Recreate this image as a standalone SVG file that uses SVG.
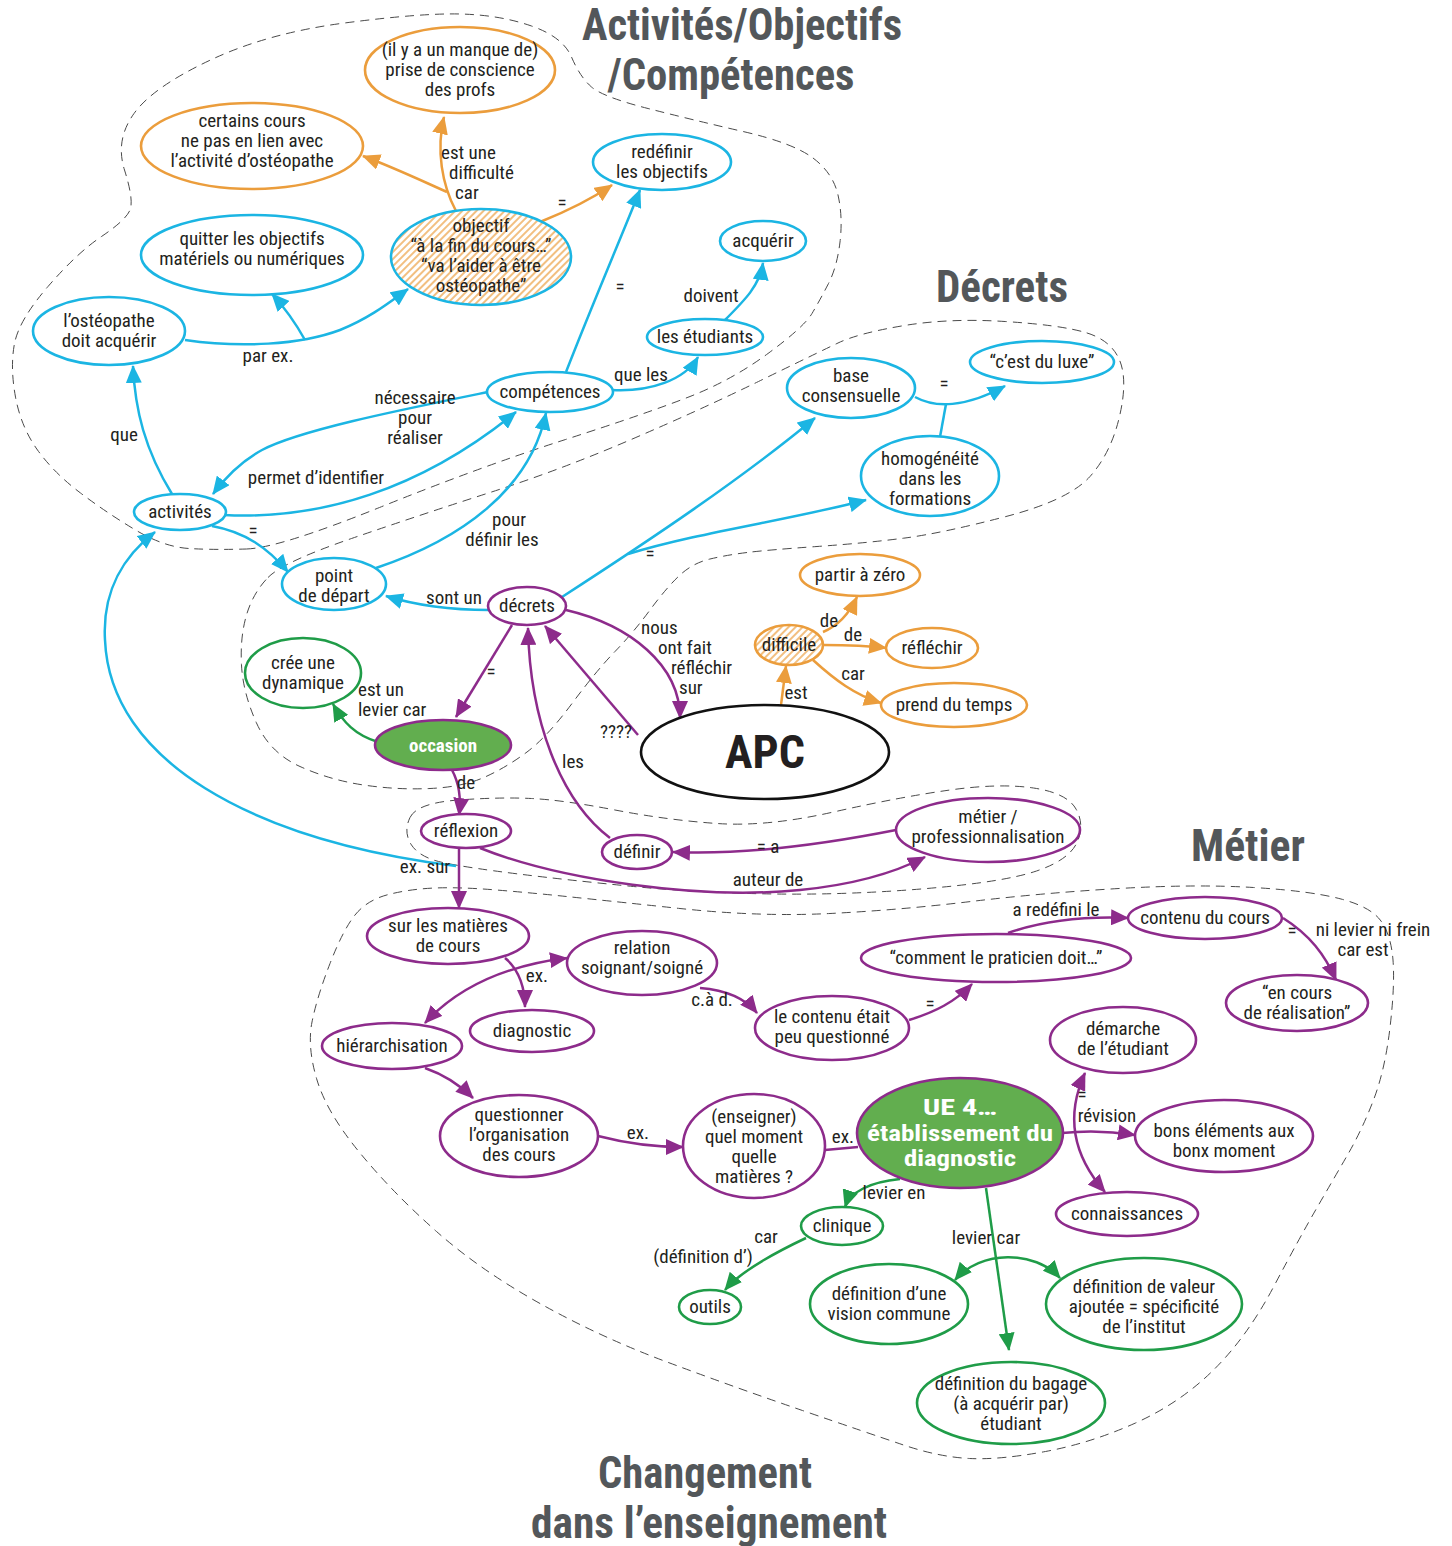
<svg xmlns="http://www.w3.org/2000/svg" width="1452" height="1546" viewBox="0 0 1452 1546">
<defs>
<style>
text{font-family:"Liberation Sans Narrow","Arial Narrow","Roboto Condensed","DejaVu Sans Condensed",sans-serif;font-stretch:condensed;font-size:19px;fill:#231f20;text-anchor:middle}
.t{font-weight:bold;font-size:44px;fill:#53575a}
.st{text-anchor:start}
.wb{fill:#fff;font-weight:bold}
.ue{font-size:22px}
ellipse{stroke-width:2.6}
.c{fill:#fff;stroke:#1bb5e3}
.o{fill:#fff;stroke:#eb9d3c}
.p{fill:#fff;stroke:#8d2b8b}
.g{fill:#fff;stroke:#1f9c48}
.gp{fill:#62ae4f;stroke:#8d2b8b}
.hc{fill:url(#hatch);stroke:#1bb5e3}
.ho{fill:url(#hatch);stroke:#eb9d3c}
.k{fill:#fff;stroke:#111}
.r{fill:none;stroke:#4a4a4a;stroke-width:1;stroke-dasharray:9 6}
.e{fill:none;stroke-width:2.5}
.ec{stroke:#1bb5e3;marker-end:url(#ac)}
.eo{stroke:#eb9d3c;marker-end:url(#ao)}
.ep{stroke:#8d2b8b;marker-end:url(#ap)}
.eg{stroke:#1f9c48;marker-end:url(#ag)}
.cn{stroke:#1bb5e3}
.pn{stroke:#8d2b8b}
.ds{marker-start:url(#ap)}
.dg{marker-start:url(#ag)}
</style>
<pattern id="hatch" patternUnits="userSpaceOnUse" width="5" height="5" patternTransform="rotate(45)">
<rect width="5" height="5" fill="#fff"/>
<line x1="1" y1="0" x2="1" y2="5" stroke="#eb9d3c" stroke-width="1.3"/>
</pattern>
<marker id="ac" viewBox="0 0 18 16" refX="17" refY="8" markerWidth="18" markerHeight="16" orient="auto-start-reverse" markerUnits="userSpaceOnUse"><path d="M0,0 L18,8 L0,16 z" fill="#1bb5e3"/></marker>
<marker id="ao" viewBox="0 0 18 16" refX="17" refY="8" markerWidth="18" markerHeight="16" orient="auto-start-reverse" markerUnits="userSpaceOnUse"><path d="M0,0 L18,8 L0,16 z" fill="#eb9d3c"/></marker>
<marker id="ap" viewBox="0 0 18 16" refX="17" refY="8" markerWidth="18" markerHeight="16" orient="auto-start-reverse" markerUnits="userSpaceOnUse"><path d="M0,0 L18,8 L0,16 z" fill="#8d2b8b"/></marker>
<marker id="ag" viewBox="0 0 18 16" refX="17" refY="8" markerWidth="18" markerHeight="16" orient="auto-start-reverse" markerUnits="userSpaceOnUse"><path d="M0,0 L18,8 L0,16 z" fill="#1f9c48"/></marker>
</defs>
<rect width="1452" height="1546" fill="#fff"/>

<g id="regions">
<path class="r" d="M 246.5,549 Q 279,548 379.5,507.5 Q 480,467 564,440 Q 648,413 690,396.5 Q 732,380 768,353.5 Q 804,327 812,313.5 Q 820,300 828.5,283.5 Q 837,267 840,242 Q 843,217 838,195 Q 833,173 813,158 Q 793,143 743,131.5 Q 693,120 648,108.5 Q 603,97 591.5,87 Q 580,77 571.5,57 Q 563,37 531.5,26 Q 500,15 460.5,14 Q 421,13 344.5,23 Q 268,33 210.5,60 Q 153,87 134,113.5 Q 115,140 124.5,170 Q 134,200 130,210 Q 126,220 101.5,236.5 Q 77,253 48,286.5 Q 19,320 14.5,343.5 Q 10,367 15.5,397 Q 21,427 37.5,450 Q 54,473 80.5,493 Q 107,513 135.5,530 Q 164,547 189,548.5 Q 214,550 246.5,549 Z"/>
<path class="r" d="M 268,577.5 Q 283,562 351.5,538.5 Q 420,515 490,492.5 Q 560,470 630,440 Q 700,410 758.5,381.5 Q 817,353 838,343 Q 859,333 904.5,325.5 Q 950,318 1005,321.5 Q 1060,325 1085.5,332.5 Q 1111,340 1119.5,360 Q 1128,380 1119.5,416.5 Q 1111,453 1090,476.5 Q 1069,500 1006,516.5 Q 943,533 905,538 Q 867,543 817,546.5 Q 767,550 747,552.5 Q 727,555 710,559 Q 693,563 680,575 Q 667,587 650,610 Q 633,633 615,651.5 Q 597,670 572,703.5 Q 547,737 527,752 Q 507,767 485,777 Q 463,787 430,788.5 Q 397,790 363.5,785 Q 330,780 300,766.5 Q 270,753 256.5,723 Q 243,693 241.5,665 Q 240,637 246.5,615 Q 253,593 268,577.5 Z"/>
<path class="r" d="M 410,817.5 Q 417,803 458.5,800 Q 500,797 531.5,798.5 Q 563,800 615,810 Q 667,820 717,823.5 Q 767,827 833.5,812 Q 900,797 950,790 Q 1000,783 1033.5,788 Q 1067,793 1076,809 Q 1085,825 1077,842.5 Q 1069,860 1036.5,871 Q 1004,882 927,888.5 Q 850,895 775,894 Q 700,893 633.5,886.5 Q 567,880 518.5,874 Q 470,868 445,863 Q 420,858 411.5,845 Q 403,832 410,817.5 Z"/>
<path class="r" d="M 355,915 Q 367,900 388.5,894.5 Q 410,889 435,888 Q 460,887 496.5,890 Q 533,893 566.5,896.5 Q 600,900 680,908.5 Q 760,917 830,913.5 Q 900,910 971,901.5 Q 1042,893 1119,888.5 Q 1196,884 1253.5,887.5 Q 1311,891 1341,899 Q 1371,907 1381,921 Q 1391,935 1393,960 Q 1395,985 1390,1027.5 Q 1385,1070 1373.5,1100 Q 1362,1130 1347.5,1155 Q 1333,1180 1316.5,1208.5 Q 1300,1237 1273.5,1287 Q 1247,1337 1213.5,1370 Q 1180,1403 1135.5,1423 Q 1091,1443 1045.5,1451.5 Q 1000,1460 969.5,1458.5 Q 939,1457 903.5,1445 Q 868,1433 801,1410 Q 734,1387 667,1362 Q 600,1337 540,1303.5 Q 480,1270 436.5,1231.5 Q 393,1193 360,1153 Q 327,1113 317,1080 Q 307,1047 312,1022 Q 317,997 330,963.5 Q 343,930 355,915 Z"/>
</g>

<g id="titles">
<text class="t" x="742" y="40" textLength="320" lengthAdjust="spacingAndGlyphs">Activités/Objectifs</text>
<text class="t" x="731" y="90" textLength="247" lengthAdjust="spacingAndGlyphs">/Compétences</text>
<text class="t" x="1002" y="302" textLength="132" lengthAdjust="spacingAndGlyphs">Décrets</text>
<text class="t" x="1248" y="861" textLength="114" lengthAdjust="spacingAndGlyphs">Métier</text>
<text class="t" x="705" y="1488" textLength="214" lengthAdjust="spacingAndGlyphs">Changement</text>
<text class="t" x="709" y="1538" textLength="356" lengthAdjust="spacingAndGlyphs">dans l’enseignement</text>
</g>

<g id="connectors">
<path class="e eo" d="M 456,211 C 442,185 436,150 444,117"/>
<path class="e eo" d="M 447,192 C 420,180 395,168 363,156"/>
<path class="e eo" d="M 540,222 C 565,212 590,200 612,185"/>
<path class="e ec" d="M 185,340 C 240,348 300,345 340,330 C 370,318 390,302 408,289"/>
<path class="e ec" d="M 305,340 C 295,322 285,308 272,294"/>
<path class="e ec" d="M 172,494 C 145,450 135,410 133,366"/>
<path class="e ec" d="M 488,392 C 400,410 300,430 262,450 C 240,462 225,478 213,494"/>
<path class="e ec" d="M 224,515 C 320,520 420,490 516,412"/>
<path class="e ec" d="M 212,526 C 245,532 268,548 288,572"/>
<path class="e ec" d="M 376,568 C 460,540 530,490 546,413"/>
<path class="e ec" d="M 489,610 C 450,610 415,605 386,596"/>
<path class="e ec" d="M 566,372 C 590,310 620,240 640,190"/>
<path class="e ec" d="M 612,390 C 650,392 685,380 698,357"/>
<path class="e ec" d="M 724,321 C 745,300 760,285 763,263"/>
<path class="e ec" d="M 562,597 C 650,540 740,480 815,418"/>
<path class="e ec" d="M 628,554 C 700,532 790,520 866,500"/>
<path class="e ec" d="M 915,397 C 935,408 965,408 1005,386"/>
<path class="e cn" d="M 940,437 L 946,404"/>
<path class="e ec" d="M 456,866 C 250,840 110,760 105,640 C 102,590 125,555 155,532"/>
<path class="e ep" d="M 512,625 L 456,717"/>
<path class="e ep" d="M 452,770 C 460,785 461,800 459,815"/>
<path class="e ep" d="M 566,610 C 630,625 680,665 680,718"/>
<path class="e ep" d="M 638,735 L 545,626"/>
<path class="e ep" d="M 610,838 C 560,800 530,720 528,628"/>
<path class="e ep" d="M 896,830 C 820,845 740,855 673,852"/>
<path class="e ep" d="M 480,848 C 560,880 700,900 800,890 C 860,884 900,870 925,857"/>
<path class="e ep" d="M 459,848 L 459,908"/>
<path class="e ep" d="M 505,958 C 520,970 525,990 525,1007"/>
<path class="e ep ds" d="M 425,1023 C 460,985 510,965 567,958"/>
<path class="e ep" d="M 425,1068 C 445,1075 460,1085 473,1098"/>
<path class="e ep" d="M 700,988 C 725,990 745,998 757,1013"/>
<path class="e ep" d="M 909,1020 C 935,1012 955,1002 972,984"/>
<path class="e ep" d="M 1008,933 C 1040,922 1080,916 1128,918"/>
<path class="e ep" d="M 1283,918 C 1310,935 1325,955 1336,980"/>
<path class="e ep" d="M 598,1136 C 625,1143 655,1147 683,1147"/>
<path class="e pn" d="M 825,1150 L 858,1147"/>
<path class="e ep ds" d="M 1085,1073 C 1068,1110 1068,1150 1105,1192"/>
<path class="e ep" d="M 1062,1133 C 1090,1130 1110,1131 1135,1135"/>
<path class="e eg" d="M 378,742 C 355,735 343,722 333,704"/>
<path class="e eg" d="M 900,1179 C 870,1182 850,1192 845,1207"/>
<path class="e eg" d="M 806,1238 C 770,1255 740,1272 725,1290"/>
<path class="e eg" d="M 986,1188 L 1009,1350"/>
<path class="e eg dg" d="M 955,1280 C 980,1250 1035,1250 1060,1278"/>
<path class="e eo" d="M 781,705 L 786,666"/>
<path class="e eo" d="M 823,632 C 840,625 850,612 857,597"/>
<path class="e eo" d="M 824,645 C 850,645 870,646 886,648"/>
<path class="e eo" d="M 813,660 C 835,680 855,695 881,703"/>
</g>

<g id="labels">
<text class="st" x="441" y="159">est une</text>
<text class="st" x="449" y="179">difficulté</text>
<text class="st" x="455" y="199">car</text>
<text x="562" y="209">=</text>
<text x="268" y="362">par ex.</text>
<text x="124" y="441">que</text>
<text x="415" y="404">nécessaire</text>
<text x="415" y="424">pour</text>
<text x="415" y="444">réaliser</text>
<text x="316" y="484">permet d’identifier</text>
<text x="253" y="537">=</text>
<text x="509" y="526">pour</text>
<text x="502" y="546">définir les</text>
<text x="454" y="604">sont un</text>
<text x="620" y="293">=</text>
<text x="641" y="381">que les</text>
<text x="711" y="302">doivent</text>
<text x="650" y="560">=</text>
<text x="944" y="390">=</text>
<text x="425" y="873">ex. sur</text>
<text x="491" y="678">=</text>
<text x="466" y="789">de</text>
<text class="st" x="641" y="634">nous</text>
<text class="st" x="658" y="654">ont fait</text>
<text class="st" x="671" y="674">réfléchir</text>
<text class="st" x="679" y="694">sur</text>
<text x="616" y="738">????</text>
<text x="573" y="768">les</text>
<text x="768" y="853">= a</text>
<text x="768" y="886">auteur de</text>
<text x="537" y="982">ex.</text>
<text x="712" y="1006">c.à d.</text>
<text x="930" y="1010">=</text>
<text x="1056" y="916">a redéfini le</text>
<text x="1292" y="937">=</text>
<text x="1373" y="936">ni levier ni frein</text>
<text x="1363" y="956">car est</text>
<text x="638" y="1139">ex.</text>
<text x="843" y="1143">ex.</text>
<text x="1082" y="1101">=</text>
<text x="1107" y="1122">révision</text>
<text class="st" x="358" y="696">est un</text>
<text class="st" x="358" y="716">levier car</text>
<text x="894" y="1199">levier en</text>
<text x="766" y="1243">car</text>
<text x="703" y="1263">(définition d’)</text>
<text x="986" y="1244">levier car</text>
<text x="796" y="699">est</text>
<text x="829" y="627">de</text>
<text x="853" y="641">de</text>
<text x="853" y="680">car</text>
</g>

<g id="n-prise"><ellipse class="o" cx="460" cy="70" rx="95" ry="43"/><text x="460" y="56">(il y a un manque de)</text><text x="460" y="76">prise de conscience</text><text x="460" y="96">des profs</text></g>
<g id="n-certains"><ellipse class="o" cx="252" cy="146" rx="111" ry="43"/><text x="252" y="127">certains cours</text><text x="252" y="147">ne pas en lien avec</text><text x="252" y="167">l’activité d’ostéopathe</text></g>
<g id="n-redefinir"><ellipse class="c" cx="662" cy="162" rx="69" ry="28"/><text x="662" y="158">redéfinir</text><text x="662" y="178">les objectifs</text></g>
<g id="n-acquerir"><ellipse class="c" cx="763" cy="241" rx="43" ry="20"/><text x="763" y="247">acquérir</text></g>
<g id="n-quitter"><ellipse class="c" cx="252" cy="255" rx="111" ry="40"/><text x="252" y="245">quitter les objectifs</text><text x="252" y="265">matériels ou numériques</text></g>
<g id="n-objectif"><ellipse class="hc" cx="481" cy="257" rx="90" ry="48"/><text x="481" y="232">objectif</text><text x="481" y="252">“à la fin du cours…”</text><text x="481" y="272">“va l’aider à être</text><text x="481" y="292">ostéopathe”</text></g>
<g id="n-osteopathe"><ellipse class="c" cx="109" cy="331" rx="76" ry="34"/><text x="109" y="327">l’ostéopathe</text><text x="109" y="347">doit acquérir</text></g>
<g id="n-etudiants"><ellipse class="c" cx="705" cy="337" rx="58" ry="18"/><text x="705" y="343">les étudiants</text></g>
<g id="n-competences"><ellipse class="c" cx="550" cy="392" rx="63" ry="20"/><text x="550" y="398">compétences</text></g>
<g id="n-base"><ellipse class="c" cx="851" cy="388" rx="64" ry="30"/><text x="851" y="382">base</text><text x="851" y="402">consensuelle</text></g>
<g id="n-luxe"><ellipse class="c" cx="1042" cy="362" rx="72" ry="21"/><text x="1042" y="368">“c’est du luxe”</text></g>
<g id="n-homogeneite"><ellipse class="c" cx="930" cy="476" rx="69" ry="40"/><text x="930" y="465">homogénéité</text><text x="930" y="485">dans les</text><text x="930" y="505">formations</text></g>
<g id="n-activites"><ellipse class="c" cx="180" cy="512" rx="46" ry="18"/><text x="180" y="518">activités</text></g>
<g id="n-depart"><ellipse class="c" cx="334" cy="584" rx="52" ry="26"/><text x="334" y="582">point</text><text x="334" y="602">de départ</text></g>
<g id="n-decrets"><ellipse class="p" cx="527" cy="606" rx="39" ry="19"/><text x="527" y="612">décrets</text></g>
<g id="n-dynamique"><ellipse class="g" cx="303" cy="673" rx="58" ry="35"/><text x="303" y="669">crée une</text><text x="303" y="689">dynamique</text></g>
<g id="n-occasion"><ellipse class="gp" cx="443" cy="745" rx="68" ry="25"/><text class="wb" x="443" y="752">occasion</text></g>
<g id="n-apc"><ellipse class="k" cx="765" cy="752" rx="124" ry="47" stroke-width="3"/><text x="765" y="768" style="font-weight:bold;font-size:46px">APC</text></g>
<g id="n-difficile"><ellipse class="ho" cx="789" cy="645" rx="34" ry="20"/><text x="789" y="651">difficile</text></g>
<g id="n-zero"><ellipse class="o" cx="860" cy="575" rx="60" ry="21"/><text x="860" y="581">partir à zéro</text></g>
<g id="n-reflechir"><ellipse class="o" cx="932" cy="648" rx="46" ry="20"/><text x="932" y="654">réfléchir</text></g>
<g id="n-temps"><ellipse class="o" cx="954" cy="705" rx="73" ry="22"/><text x="954" y="711">prend du temps</text></g>
<g id="n-reflexion"><ellipse class="p" cx="466" cy="831" rx="45" ry="17"/><text x="466" y="837">réflexion</text></g>
<g id="n-definir"><ellipse class="p" cx="637" cy="852" rx="35" ry="17"/><text x="637" y="858">définir</text></g>
<g id="n-metier"><ellipse class="p" cx="988" cy="830" rx="92" ry="32"/><text x="988" y="823">métier /</text><text x="988" y="843">professionnalisation</text></g>
<g id="n-matieres"><ellipse class="p" cx="448" cy="936" rx="81" ry="28"/><text x="448" y="932">sur les matières</text><text x="448" y="952">de cours</text></g>
<g id="n-relation"><ellipse class="p" cx="642" cy="963" rx="75" ry="32"/><text x="642" y="954">relation</text><text x="642" y="974">soignant/soigné</text></g>
<g id="n-diagnostic"><ellipse class="p" cx="532" cy="1031" rx="62" ry="21"/><text x="532" y="1037">diagnostic</text></g>
<g id="n-hierarchisation"><ellipse class="p" cx="392" cy="1046" rx="70" ry="23"/><text x="392" y="1052">hiérarchisation</text></g>
<g id="n-contenu-etait"><ellipse class="p" cx="832" cy="1028" rx="77" ry="32"/><text x="832" y="1023">le contenu était</text><text x="832" y="1043">peu questionné</text></g>
<g id="n-comment"><ellipse class="p" cx="996" cy="958" rx="135" ry="24"/><text x="996" y="964">“comment le praticien doit…”</text></g>
<g id="n-contenu-cours"><ellipse class="p" cx="1205" cy="918" rx="77" ry="21"/><text x="1205" y="924">contenu du cours</text></g>
<g id="n-encours"><ellipse class="p" cx="1297" cy="1003" rx="71" ry="28"/><text x="1297" y="999">“en cours</text><text x="1297" y="1019">de réalisation”</text></g>
<g id="n-demarche"><ellipse class="p" cx="1123" cy="1040" rx="73" ry="33"/><text x="1123" y="1035">démarche</text><text x="1123" y="1055">de l’étudiant</text></g>
<g id="n-questionner"><ellipse class="p" cx="519" cy="1136" rx="79" ry="41"/><text x="519" y="1121">questionner</text><text x="519" y="1141">l’organisation</text><text x="519" y="1161">des cours</text></g>
<g id="n-enseigner"><ellipse class="p" cx="754" cy="1146" rx="71" ry="52"/><text x="754" y="1123">(enseigner)</text><text x="754" y="1143">quel moment</text><text x="754" y="1163">quelle</text><text x="754" y="1183">matières ?</text></g>
<g id="n-ue4"><ellipse class="gp" cx="960" cy="1133" rx="103" ry="55"/><text class="wb ue" x="960" y="1115" textLength="74" lengthAdjust="spacingAndGlyphs">UE 4…</text><text class="wb ue" x="960" y="1140.5" textLength="186" lengthAdjust="spacingAndGlyphs">établissement du</text><text class="wb ue" x="960" y="1166" textLength="112" lengthAdjust="spacingAndGlyphs">diagnostic</text></g>
<g id="n-bons"><ellipse class="p" cx="1224" cy="1136" rx="89" ry="36"/><text x="1224" y="1137">bons éléments aux</text><text x="1224" y="1157">bonx moment</text></g>
<g id="n-connaissances"><ellipse class="p" cx="1127" cy="1214" rx="71" ry="22"/><text x="1127" y="1220">connaissances</text></g>
<g id="n-clinique"><ellipse class="g" cx="842" cy="1226" rx="41" ry="19"/><text x="842" y="1232">clinique</text></g>
<g id="n-outils"><ellipse class="g" cx="710" cy="1307" rx="31" ry="17"/><text x="710" y="1313">outils</text></g>
<g id="n-vision"><ellipse class="g" cx="889" cy="1304" rx="79" ry="40"/><text x="889" y="1300">définition d’une</text><text x="889" y="1320">vision commune</text></g>
<g id="n-valeur"><ellipse class="g" cx="1144" cy="1304" rx="98" ry="46"/><text x="1144" y="1293">définition de valeur</text><text x="1144" y="1313">ajoutée = spécificité</text><text x="1144" y="1333">de l’institut</text></g>
<g id="n-bagage"><ellipse class="g" cx="1011" cy="1403" rx="94" ry="41"/><text x="1011" y="1390">définition du bagage</text><text x="1011" y="1410">(à acquérir par)</text><text x="1011" y="1430">étudiant</text></g>
</svg>
